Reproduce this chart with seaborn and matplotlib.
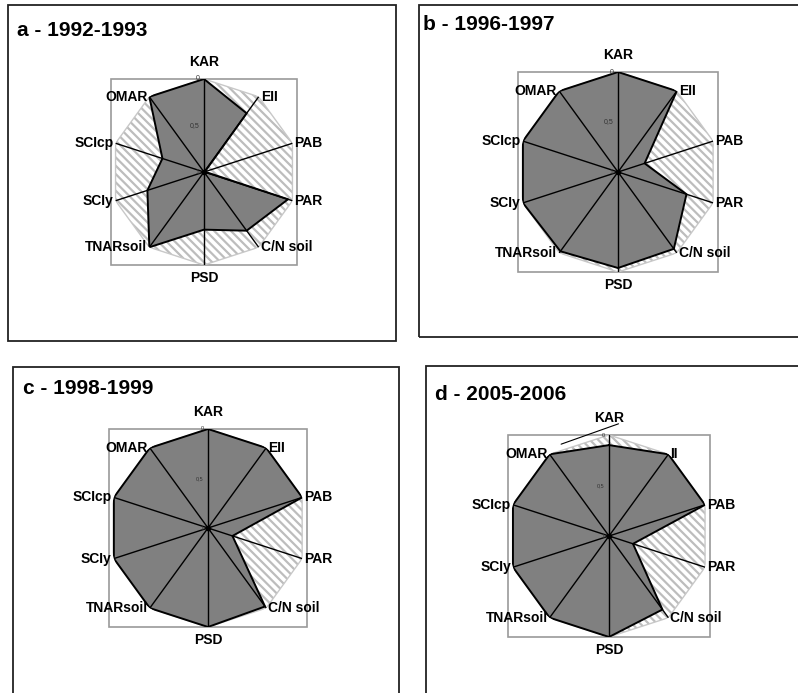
import numpy as np
import matplotlib
matplotlib.use("Agg")
import matplotlib.pyplot as plt
from matplotlib.patches import Rectangle
import seaborn as sns

sns.set_theme(style="white")
plt.rcParams['font.family'] = ['Liberation Sans', 'DejaVu Sans']
plt.rcParams['hatch.linewidth'] = 1.6

# ---- data (0 = outer ring, 1 = centre) ----
axes_labels = ["KAR", "EII", "PAB", "PAR", "C/N soil", "PSD", "TNARsoil", "SCIy", "SCIcp", "OMAR"]
axes_labels_d = ["KAR", "II", "PAB", "PAR", "C/N soil", "PSD", "TNARsoil", "SCIy", "SCIcp", "OMAR"]
titles = ["a - 1992-1993", "b - 1996-1997", "c - 1998-1999", "d - 2005-2006"]
vals_a = [0.00, 0.22, 0.99, 0.05, 0.22, 0.38, 0.00, 0.36, 0.53, 0.00]
vals_b = [0.00, 0.00, 0.72, 0.28, 0.05, 0.04, 0.02, 0.00, 0.00, 0.00]
vals_c = [0.00, 0.00, 0.00, 0.74, 0.02, 0.00, 0.00, 0.00, 0.00, 0.00]
vals_d = [0.10, 0.00, 0.00, 0.75, 0.10, 0.00, 0.00, 0.00, 0.00, 0.00]
tick_values = [0, 0.5, 1]
tick_labels = ["0", "0,5", "1"]

W, H = 798, 693
fig = plt.figure(figsize=(W / 100, H / 100), dpi=100)
fig.patch.set_facecolor("white")

# panel frames (pixels: x0, y0, x1, y1 from top-left)
frames = [(8, 5, 396, 341), (419, 5, 820, 337), (13, 367, 399, 720), (426, 366, 820, 720)]
for (x0, y0, x1, y1) in frames:
    fig.add_artist(Rectangle((x0 / W, 1 - y1 / H), (x1 - x0) / W, (y1 - y0) / H,
                             transform=fig.transFigure, fill=False,
                             edgecolor="#222222", lw=1.3))

# radar centres and radii (pixels)
layout = [(204, 172, 93), (618, 172, 100), (208, 528, 99), (609, 536, 101)]
title_pos = [(17, 30), (423, 25), (23, 389), (435, 394)]
tick_fs = [5, 5, 4, 4]
all_vals = [vals_a, vals_b, vals_c, vals_d]
all_labels = [axes_labels, axes_labels, axes_labels, axes_labels_d]

n = len(axes_labels)
theta = np.arange(n) * 2 * np.pi / n
theta_c = np.append(theta, theta[0])

for i, (cx, cy, R) in enumerate(layout):
    ax = fig.add_axes([(cx - R) / W, 1 - (cy + R) / H, 2 * R / W, 2 * R / H],
                      projection="polar")
    ax.set_theta_zero_location("N")
    ax.set_theta_direction(-1)
    ax.set_ylim(1, 0)
    ax.grid(False)
    ax.set_xticks([])
    ax.set_yticks([])
    ax.spines["polar"].set_visible(False)
    ax.patch.set_alpha(0)

    # square plot-area border
    ax.add_artist(Rectangle((0, 0), 1, 1, transform=ax.transAxes, fill=False,
                            edgecolor="#9a9a9a", lw=1.2, clip_on=False, zorder=0))

    # hatched background decagon (value 0 everywhere)
    bg = ax.fill(theta_c, np.zeros(n + 1), facecolor="white", edgecolor="#bdbdbd",
                 hatch="\\\\\\\\", lw=0, zorder=1)
    for p in bg:
        p.get_path()._interpolation_steps = 1
    ax.plot(theta_c, np.zeros(n + 1), color="#c8c8c8", lw=1.0, zorder=1.5)

    v = np.array(all_vals[i])
    fg = ax.fill(theta_c, np.append(v, v[0]), facecolor="#808080", edgecolor="none", zorder=2)
    ax.plot(theta_c, np.append(v, v[0]), color="black", lw=1.4, zorder=4)

    # spokes
    for t in theta:
        ax.plot([t, t], [1, 0], color="black", lw=1.0, zorder=3)
    ax.plot([0], [1], marker="o", color="black", ms=3, zorder=5)

    # radial tick labels
    for tv, tl in zip(tick_values, tick_labels):
        ax.annotate(tl, xy=(0, tv), xytext=(-3, 0), textcoords="offset points",
                    ha="right", va="center", fontsize=tick_fs[i], color="#333333",
                    zorder=6)

    # axis labels
    for t, lab in zip(theta, all_labels[i]):
        s, c = np.sin(t), np.cos(t)
        if abs(s) < 0.1:
            ha = "center"
            va = "bottom" if c > 0 else "top"
            off = (0, 7 if c > 0 else -4)
        else:
            ha = "left" if s > 0 else "right"
            va = "center"
            off = (1.5 if s > 0 else -1.5, 0)
        ax.annotate(lab, xy=(t, 0), xytext=off, textcoords="offset points",
                    ha=ha, va=va, fontsize=10, fontweight="bold", color="black",
                    annotation_clip=False, zorder=6)

    if i == 3:
        ax.annotate("", xy=(0.56, 1.06), xytext=(0.25, 0.95), xycoords="axes fraction",
                    arrowprops=dict(arrowstyle="-", color="black", lw=0.8))

    tx, ty = title_pos[i]
    fig.text(tx / W, 1 - ty / H, titles[i], fontsize=15, fontweight="bold",
             ha="left", va="center", color="black")

fig.savefig("out.png", dpi=100, facecolor="white")
